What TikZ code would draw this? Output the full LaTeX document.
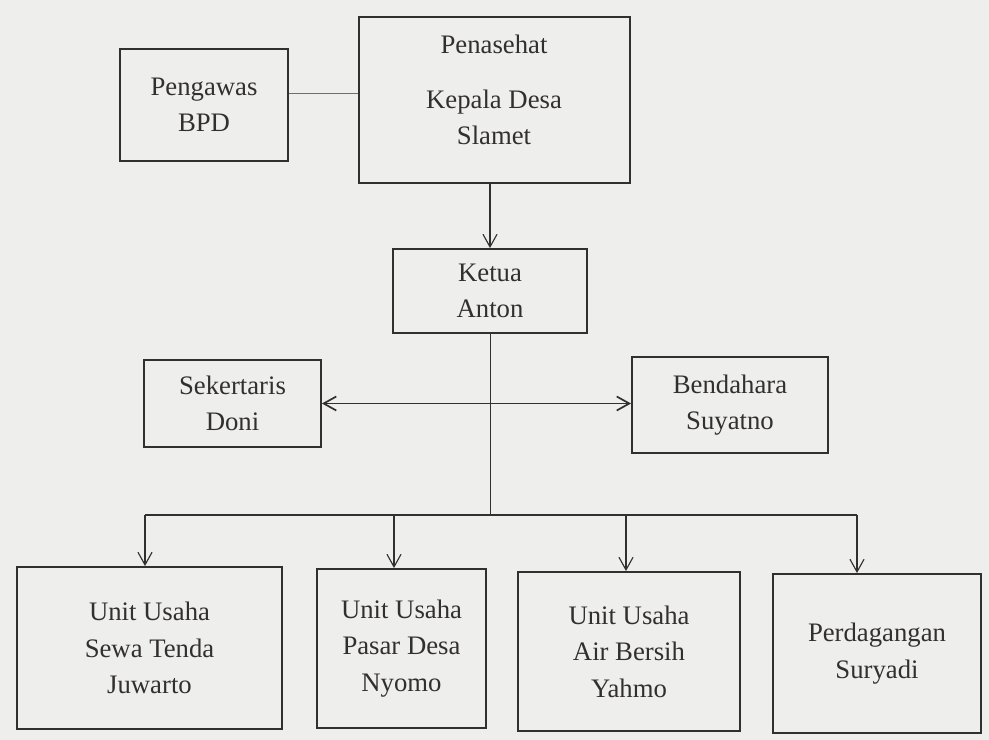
\documentclass[tikz,border=0pt]{standalone}
\usepackage{fontspec}
\setmainfont{Liberation Serif}
\usetikzlibrary{arrows.meta}
\definecolor{kertas}{RGB}{238,238,236}
\definecolor{tinta}{RGB}{50,48,46}

\begin{document}
\begin{tikzpicture}[x=0.025cm, y=-0.025cm, >={Straight Barb[length=9pt,width=10pt]},
    box/.style={draw=tinta, line width=1.3pt, align=center, inner sep=0pt, text=tinta,
        font=\fontsize{19}{26}\selectfont},
    teks/.style={align=center, inner sep=0pt, text=tinta, font=\fontsize{19}{26}\selectfont},
    link/.style={draw=tinta, line width=0.8pt}]

    % Latar
    \fill[kertas] (0,0) rectangle (989,740);
    \useasboundingbox (0,0) rectangle (989,740);

    % Koordinat penting
    \def\busY{515}      % garis cabang ke unit usaha

    % Pengawas dan penasehat
    \node[box, minimum width=4.2cm, minimum height=2.8cm] (bpd) at (204,105) {Pengawas\\BPD};
    \node[box, minimum width=6.775cm, minimum height=4.15cm] (penasehat) at (494.5,100) {};
    \node[teks] (penasehatteks) at (494,90) {Penasehat\\[13pt]Kepala Desa\\Slamet};

    % Ketua, sekertaris, bendahara
    \node[box, minimum width=4.85cm, minimum height=2.1cm] (ketua) at (490,291) {Ketua\\Anton};
    \node[box, minimum width=4.425cm, minimum height=2.175cm] (sekertaris) at (232.5,403.5) {Sekertaris\\Doni};
    \node[box, minimum width=4.9cm, minimum height=2.4cm] (bendahara) at (730,405) {Bendahara\\Suyatno};

    % Unit usaha
    \node[box, minimum width=6.625cm, minimum height=4.05cm] (unit1) at (149.5,648) {Unit Usaha\\Sewa Tenda\\Juwarto};
    \node[box, minimum width=4.225cm, minimum height=3.975cm] (unit2) at (401.5,648.5) {Unit Usaha\\Pasar Desa\\Nyomo};
    \node[box, minimum width=5.55cm, minimum height=3.975cm] (unit3) at (629,651.5) {Unit Usaha\\Air Bersih\\Yahmo};
    \node[box, minimum width=5.2cm, minimum height=3.975cm] (unit4) at (877,653.5) {Perdagangan\\Suryadi};

    % Garis penghubung
    \draw[link, draw=tinta!70, line width=0.6pt] ([yshift=0.3cm]bpd.east) -- ([yshift=0.3cm]bpd.east -| penasehat.west);
    \draw[link, ->] (penasehat.south -| ketua.north) -- (ketua.north);
    \draw[link, <->, line width=1.2pt] (sekertaris.east) -- (sekertaris.east -| bendahara.west);

    % Cabang dari ketua
    \coordinate (bus) at (490,\busY);
    \coordinate (bus1) at (145,\busY);
    \coordinate (bus2) at (394,\busY);
    \coordinate (bus3) at (626,\busY);
    \coordinate (bus4) at (857,\busY);
    \draw[link, line width=0.6pt] (ketua.south) -- (bus);
    \draw[link] (bus1) -- (bus4);
    \draw[link, ->] (bus1) -- (bus1 |- unit1.north);
    \draw[link, ->] (bus2) -- (bus2 |- unit2.north);
    \draw[link, ->] (bus3) -- (bus3 |- unit3.north);
    \draw[link, ->] (bus4) -- (bus4 |- unit4.north);

\end{tikzpicture}
\end{document}
